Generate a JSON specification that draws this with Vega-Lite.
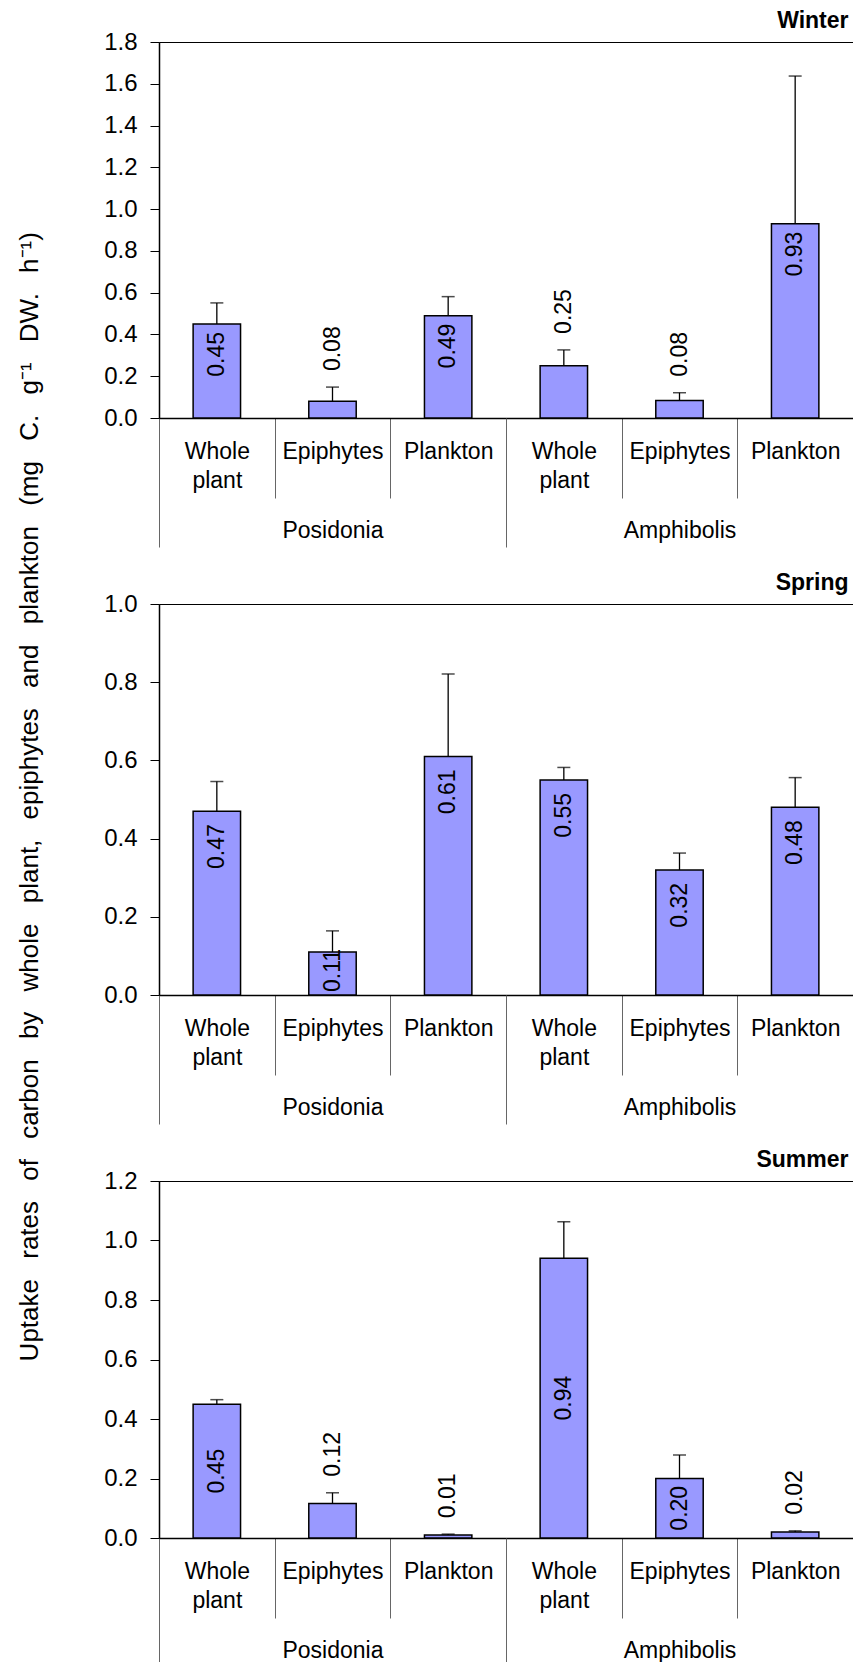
{
  "$schema": "https://vega.github.io/schema/vega-lite/v6.json",
  "padding": {"left": 17, "top": 9, "right": 0, "bottom": 0},
  "background": "white",
  "bounds": "flush",
  "spacing": 186,
  "title": {"text": "Uptake\u2002 rates\u2002 of\u2002 carbon\u2002 by\u2002 whole\u2002 plant,\u2002 epiphytes\u2002 and\u2002 plankton\u2002 (mg\u2002 C.\u2002 g⁻¹\u2002 DW.\u2002 h⁻¹)", "orient": "left", "anchor": "middle", "frame": "bounds", "font": "Liberation Sans", "fontSize": 26, "fontWeight": "normal", "color": "#000", "offset": 60, "dx": 42, "limit": 3000},
  "config": {
    "font": "Liberation Sans",
    "view": {"stroke": "#000", "strokeWidth": 1},
    "axis": {"grid": false},
    "title": {"font": "Liberation Sans", "fontSize": 23, "fontWeight": "bold", "color": "#000", "anchor": "end", "dx": -5, "offset": -3}
  },
  "datasets": {
    "rates": [
      {"season": "Winter", "group": "Posidonia", "type": "Whole plant", "key": "Posidonia|Whole plant", "value": 0.45, "hi": 0.551},
      {"season": "Winter", "group": "Posidonia", "type": "Epiphytes", "key": "Posidonia|Epiphytes", "value": 0.08, "hi": 0.148},
      {"season": "Winter", "group": "Posidonia", "type": "Plankton", "key": "Posidonia|Plankton", "value": 0.49, "hi": 0.581},
      {"season": "Winter", "group": "Amphibolis", "type": "Whole plant", "key": "Amphibolis|Whole plant", "value": 0.25, "hi": 0.326},
      {"season": "Winter", "group": "Amphibolis", "type": "Epiphytes", "key": "Amphibolis|Epiphytes", "value": 0.084, "hi": 0.121},
      {"season": "Winter", "group": "Amphibolis", "type": "Plankton", "key": "Amphibolis|Plankton", "value": 0.93, "hi": 1.637},
      {"season": "Spring", "group": "Posidonia", "type": "Whole plant", "key": "Posidonia|Whole plant", "value": 0.47, "hi": 0.546},
      {"season": "Spring", "group": "Posidonia", "type": "Epiphytes", "key": "Posidonia|Epiphytes", "value": 0.11, "hi": 0.164},
      {"season": "Spring", "group": "Posidonia", "type": "Plankton", "key": "Posidonia|Plankton", "value": 0.61, "hi": 0.821},
      {"season": "Spring", "group": "Amphibolis", "type": "Whole plant", "key": "Amphibolis|Whole plant", "value": 0.55, "hi": 0.582},
      {"season": "Spring", "group": "Amphibolis", "type": "Epiphytes", "key": "Amphibolis|Epiphytes", "value": 0.32, "hi": 0.363},
      {"season": "Spring", "group": "Amphibolis", "type": "Plankton", "key": "Amphibolis|Plankton", "value": 0.48, "hi": 0.556},
      {"season": "Summer", "group": "Posidonia", "type": "Whole plant", "key": "Posidonia|Whole plant", "value": 0.45, "hi": 0.465},
      {"season": "Summer", "group": "Posidonia", "type": "Epiphytes", "key": "Posidonia|Epiphytes", "value": 0.116, "hi": 0.152},
      {"season": "Summer", "group": "Posidonia", "type": "Plankton", "key": "Posidonia|Plankton", "value": 0.01, "hi": 0.013},
      {"season": "Summer", "group": "Amphibolis", "type": "Whole plant", "key": "Amphibolis|Whole plant", "value": 0.94, "hi": 1.063},
      {"season": "Summer", "group": "Amphibolis", "type": "Epiphytes", "key": "Amphibolis|Epiphytes", "value": 0.2, "hi": 0.279},
      {"season": "Summer", "group": "Amphibolis", "type": "Plankton", "key": "Amphibolis|Plankton", "value": 0.02, "hi": 0.024}
    ]
  },
  "vconcat": [
    {
      "width": 694, "height": 376,
      "title": {"text": "Winter"},
      "data": {"name": "rates"},
      "transform": [{"filter": "datum.season === 'Winter'"}],
      "resolve": {"scale": {"x": "independent", "y": "independent"}},
      "layer": [
        {
          "mark": {"type": "bar", "width": {"band": 0.41}, "fill": "#9999FF", "stroke": "#000", "strokeWidth": 1.5},
          "encoding": {
            "x": {"field": "key", "type": "nominal", "sort": null, "scale": {"paddingInner": 0, "paddingOuter": 0},
              "axis": {"title": null, "orient": "bottom", "domainColor": "#000", "domainWidth": 1.5, "tickBand": "extent", "tickSize": 80, "tickColor": "#666", "tickWidth": 1, "labelExpr": "datum.label ? split(split(datum.label, '|')[1], ' ') : ''", "labelFont": "Liberation Sans", "labelFontSize": 23, "labelColor": "#000", "labelPadding": -58, "labelLineHeight": 29, "labelBaseline": "top", "labelAngle": 0, "labelOverlap": false, "labelBound": false, "labelLimit": 0}},
            "y": {"field": "value", "type": "quantitative", "scale": {"domain": [0, 1.8], "nice": false, "zero": true},
              "axis": {"title": null, "values": [0, 0.2, 0.4, 0.6, 0.8, 1.0, 1.2, 1.4, 1.6, 1.8], "format": ".1f", "domainColor": "#000", "domainWidth": 1.5, "tickColor": "#000", "tickSize": 9, "tickWidth": 1, "labelFont": "Liberation Sans", "labelFontSize": 24, "labelColor": "#000", "labelPadding": 13, "labelFlush": false, "labelOverlap": false, "labelBound": false}}
          }
        },
        {
          "mark": {"type": "rule", "color": "#000", "strokeWidth": 1.3},
          "encoding": {
            "x": {"field": "key", "type": "nominal", "sort": null, "scale": {"paddingInner": 0, "paddingOuter": 0}, "axis": null},
            "y": {"field": "value", "type": "quantitative", "scale": {"domain": [0, 1.8], "nice": false}, "axis": null},
            "y2": {"field": "hi"}
          }
        },
        {
          "mark": {"type": "tick", "color": "#000", "size": 13, "thickness": 1.5},
          "encoding": {
            "x": {"field": "key", "type": "nominal", "sort": null, "scale": {"paddingInner": 0, "paddingOuter": 0}, "axis": null},
            "y": {"field": "hi", "type": "quantitative", "scale": {"domain": [0, 1.8], "nice": false}, "axis": null}
          }
        },
        {
          "mark": {"type": "text", "angle": 270, "align": "right", "baseline": "middle", "dx": -8, "font": "Liberation Sans", "fontSize": 23, "color": "#000"},
          "encoding": {
            "x": {"field": "key", "type": "nominal", "sort": null, "scale": {"paddingInner": 0, "paddingOuter": 0}, "axis": null},
            "y": {"field": "value", "type": "quantitative", "scale": {"domain": [0, 1.8], "nice": false}, "axis": null},
            "text": {"condition": {"test": "datum.value >= 0.3", "field": "value", "type": "quantitative", "format": ".2f"}, "value": ""}
          }
        },
        {
          "mark": {"type": "text", "angle": 270, "align": "left", "baseline": "middle", "dx": 16, "font": "Liberation Sans", "fontSize": 23, "color": "#000"},
          "encoding": {
            "x": {"field": "key", "type": "nominal", "sort": null, "scale": {"paddingInner": 0, "paddingOuter": 0}, "axis": null},
            "y": {"field": "hi", "type": "quantitative", "scale": {"domain": [0, 1.8], "nice": false}, "axis": null},
            "text": {"condition": {"test": "datum.value < 0.3", "field": "value", "type": "quantitative", "format": ".2f"}, "value": ""}
          }
        },
        {
          "mark": {"type": "text", "text": ""},
          "encoding": {
            "x": {"field": "group", "type": "nominal", "sort": null, "scale": {"paddingInner": 0, "paddingOuter": 0},
              "axis": {"title": null, "orient": "bottom", "domain": false, "tickBand": "extent", "tickSize": 129, "tickColor": "#666", "tickWidth": 1, "labelFont": "Liberation Sans", "labelFontSize": 23, "labelColor": "#000", "labelPadding": -17, "labelBaseline": "middle", "labelAngle": 0, "labelOverlap": false, "labelBound": false, "labelLimit": 0}}
          }
        }
      ]
    },
    {
      "width": 694, "height": 391,
      "title": {"text": "Spring"},
      "data": {"name": "rates"},
      "transform": [{"filter": "datum.season === 'Spring'"}],
      "resolve": {"scale": {"x": "independent", "y": "independent"}},
      "layer": [
        {
          "mark": {"type": "bar", "width": {"band": 0.41}, "fill": "#9999FF", "stroke": "#000", "strokeWidth": 1.5},
          "encoding": {
            "x": {"field": "key", "type": "nominal", "sort": null, "scale": {"paddingInner": 0, "paddingOuter": 0},
              "axis": {"title": null, "orient": "bottom", "domainColor": "#000", "domainWidth": 1.5, "tickBand": "extent", "tickSize": 80, "tickColor": "#666", "tickWidth": 1, "labelExpr": "datum.label ? split(split(datum.label, '|')[1], ' ') : ''", "labelFont": "Liberation Sans", "labelFontSize": 23, "labelColor": "#000", "labelPadding": -58, "labelLineHeight": 29, "labelBaseline": "top", "labelAngle": 0, "labelOverlap": false, "labelBound": false, "labelLimit": 0}},
            "y": {"field": "value", "type": "quantitative", "scale": {"domain": [0, 1.0], "nice": false, "zero": true},
              "axis": {"title": null, "values": [0, 0.2, 0.4, 0.6, 0.8, 1.0], "format": ".1f", "domainColor": "#000", "domainWidth": 1.5, "tickColor": "#000", "tickSize": 9, "tickWidth": 1, "labelFont": "Liberation Sans", "labelFontSize": 24, "labelColor": "#000", "labelPadding": 13, "labelFlush": false, "labelOverlap": false, "labelBound": false}}
          }
        },
        {
          "mark": {"type": "rule", "color": "#000", "strokeWidth": 1.3},
          "encoding": {
            "x": {"field": "key", "type": "nominal", "sort": null, "scale": {"paddingInner": 0, "paddingOuter": 0}, "axis": null},
            "y": {"field": "value", "type": "quantitative", "scale": {"domain": [0, 1.0], "nice": false}, "axis": null},
            "y2": {"field": "hi"}
          }
        },
        {
          "mark": {"type": "tick", "color": "#000", "size": 13, "thickness": 1.5},
          "encoding": {
            "x": {"field": "key", "type": "nominal", "sort": null, "scale": {"paddingInner": 0, "paddingOuter": 0}, "axis": null},
            "y": {"field": "hi", "type": "quantitative", "scale": {"domain": [0, 1.0], "nice": false}, "axis": null}
          }
        },
        {
          "mark": {"type": "text", "angle": 270, "align": "right", "baseline": "middle", "dx": -13, "font": "Liberation Sans", "fontSize": 23, "color": "#000"},
          "encoding": {
            "x": {"field": "key", "type": "nominal", "sort": null, "scale": {"paddingInner": 0, "paddingOuter": 0}, "axis": null},
            "y": {"field": "value", "type": "quantitative", "scale": {"domain": [0, 1.0], "nice": false}, "axis": null},
            "text": {"condition": {"test": "datum.value >= 0.2", "field": "value", "type": "quantitative", "format": ".2f"}, "value": ""}
          }
        },
        {
          "mark": {"type": "text", "angle": 270, "align": "left", "baseline": "middle", "dx": 3, "font": "Liberation Sans", "fontSize": 23, "color": "#000"},
          "encoding": {
            "x": {"field": "key", "type": "nominal", "sort": null, "scale": {"paddingInner": 0, "paddingOuter": 0}, "axis": null},
            "y": {"datum": 0, "type": "quantitative", "scale": {"domain": [0, 1.0], "nice": false}, "axis": null},
            "text": {"condition": {"test": "datum.value < 0.2", "field": "value", "type": "quantitative", "format": ".2f"}, "value": ""}
          }
        },
        {
          "mark": {"type": "text", "text": ""},
          "encoding": {
            "x": {"field": "group", "type": "nominal", "sort": null, "scale": {"paddingInner": 0, "paddingOuter": 0},
              "axis": {"title": null, "orient": "bottom", "domain": false, "tickBand": "extent", "tickSize": 129, "tickColor": "#666", "tickWidth": 1, "labelFont": "Liberation Sans", "labelFontSize": 23, "labelColor": "#000", "labelPadding": -17, "labelBaseline": "middle", "labelAngle": 0, "labelOverlap": false, "labelBound": false, "labelLimit": 0}}
          }
        }
      ]
    },
    {
      "width": 694, "height": 357,
      "title": {"text": "Summer"},
      "data": {"name": "rates"},
      "transform": [{"filter": "datum.season === 'Summer'"}],
      "resolve": {"scale": {"x": "independent", "y": "independent"}},
      "layer": [
        {
          "mark": {"type": "bar", "width": {"band": 0.41}, "fill": "#9999FF", "stroke": "#000", "strokeWidth": 1.5},
          "encoding": {
            "x": {"field": "key", "type": "nominal", "sort": null, "scale": {"paddingInner": 0, "paddingOuter": 0},
              "axis": {"title": null, "orient": "bottom", "domainColor": "#000", "domainWidth": 1.5, "tickBand": "extent", "tickSize": 80, "tickColor": "#666", "tickWidth": 1, "labelExpr": "datum.label ? split(split(datum.label, '|')[1], ' ') : ''", "labelFont": "Liberation Sans", "labelFontSize": 23, "labelColor": "#000", "labelPadding": -58, "labelLineHeight": 29, "labelBaseline": "top", "labelAngle": 0, "labelOverlap": false, "labelBound": false, "labelLimit": 0}},
            "y": {"field": "value", "type": "quantitative", "scale": {"domain": [0, 1.2], "nice": false, "zero": true},
              "axis": {"title": null, "values": [0, 0.2, 0.4, 0.6, 0.8, 1.0, 1.2], "format": ".1f", "domainColor": "#000", "domainWidth": 1.5, "tickColor": "#000", "tickSize": 9, "tickWidth": 1, "labelFont": "Liberation Sans", "labelFontSize": 24, "labelColor": "#000", "labelPadding": 13, "labelFlush": false, "labelOverlap": false, "labelBound": false}}
          }
        },
        {
          "mark": {"type": "rule", "color": "#000", "strokeWidth": 1.3},
          "encoding": {
            "x": {"field": "key", "type": "nominal", "sort": null, "scale": {"paddingInner": 0, "paddingOuter": 0}, "axis": null},
            "y": {"field": "value", "type": "quantitative", "scale": {"domain": [0, 1.2], "nice": false}, "axis": null},
            "y2": {"field": "hi"}
          }
        },
        {
          "mark": {"type": "tick", "color": "#000", "size": 13, "thickness": 1.5},
          "encoding": {
            "x": {"field": "key", "type": "nominal", "sort": null, "scale": {"paddingInner": 0, "paddingOuter": 0}, "axis": null},
            "y": {"field": "hi", "type": "quantitative", "scale": {"domain": [0, 1.2], "nice": false}, "axis": null}
          }
        },
        {
          "mark": {"type": "text", "angle": 270, "align": "center", "baseline": "middle", "font": "Liberation Sans", "fontSize": 23, "color": "#000"},
          "encoding": {
            "x": {"field": "key", "type": "nominal", "sort": null, "scale": {"paddingInner": 0, "paddingOuter": 0}, "axis": null},
            "y": {"field": "value", "type": "quantitative", "scale": {"domain": [0, 2.4], "nice": false}, "axis": null},
            "text": {"condition": {"test": "datum.value >= 0.15", "field": "value", "type": "quantitative", "format": ".2f"}, "value": ""}
          }
        },
        {
          "mark": {"type": "text", "angle": 270, "align": "left", "baseline": "middle", "dx": 16, "font": "Liberation Sans", "fontSize": 23, "color": "#000"},
          "encoding": {
            "x": {"field": "key", "type": "nominal", "sort": null, "scale": {"paddingInner": 0, "paddingOuter": 0}, "axis": null},
            "y": {"field": "hi", "type": "quantitative", "scale": {"domain": [0, 1.2], "nice": false}, "axis": null},
            "text": {"condition": {"test": "datum.value < 0.15", "field": "value", "type": "quantitative", "format": ".2f"}, "value": ""}
          }
        },
        {
          "mark": {"type": "text", "text": ""},
          "encoding": {
            "x": {"field": "group", "type": "nominal", "sort": null, "scale": {"paddingInner": 0, "paddingOuter": 0},
              "axis": {"title": null, "orient": "bottom", "domain": false, "tickBand": "extent", "tickSize": 129, "tickColor": "#666", "tickWidth": 1, "labelFont": "Liberation Sans", "labelFontSize": 23, "labelColor": "#000", "labelPadding": -17, "labelBaseline": "middle", "labelAngle": 0, "labelOverlap": false, "labelBound": false, "labelLimit": 0}}
          }
        }
      ]
    }
  ]
}
